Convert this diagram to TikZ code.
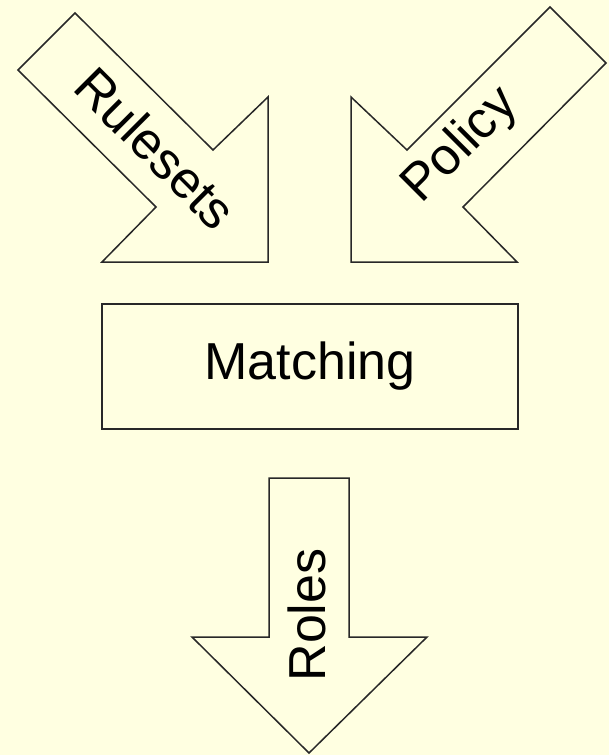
\documentclass[tikz,border=0pt]{standalone}
\usepackage{fontspec}
\setmainfont{Liberation Sans}
\usetikzlibrary{positioning}

\definecolor{bgyellow}{RGB}{255,255,225}
\definecolor{linegray}{RGB}{40,40,40}

\begin{document}
\begin{tikzpicture}[x=0.5pt,y=-0.5pt]
			\tikzset{blockarrow/.style = {draw=linegray, fill=bgyellow, line width=0.75pt, 
					line join=miter}}
			\tikzset{arrowlabel/.style = {font=\fontsize{26}{30}\selectfont, inner sep=0pt}}
			\tikzset{stagebox/.style = {shape=rectangle, draw=linegray, fill=bgyellow, 
					line width=0.9pt, minimum width=208pt, minimum height=62.5pt, 
					inner sep=0pt, font=\fontsize{26}{30}\selectfont}}
			
			% background
			\fill[bgyellow] (0,0) rectangle (609,755);
			\useasboundingbox (0,0) rectangle (609,755);
			
			% arrows
			\draw[blockarrow] (75,13) -- (213,150) -- (268,97) -- (268,262) -- (102,262) 
				-- (156,207) -- (18,70) -- cycle;
			\draw[blockarrow] (550,7) -- (606,63) -- (463,207) -- (517,262) -- (351,262) 
				-- (351,97) -- (407,150) -- cycle;
			\draw[blockarrow] (269,478) -- (349,478) -- (349,637) -- (427,637) -- (309,753) 
				-- (192,637) -- (269,637) -- cycle;
			
			% labels
			\node[stagebox] (matching) at (310,366.5) {Matching};
			\node[arrowlabel, rotate=-45] (rulesets) at (156,148) {Rulesets};
			\node[arrowlabel, rotate=45] (policy) at (461,146) {Policy};
			\node[arrowlabel, rotate=90] (roles) at (307,615) {Roles};
			
\end{tikzpicture}
\end{document}
